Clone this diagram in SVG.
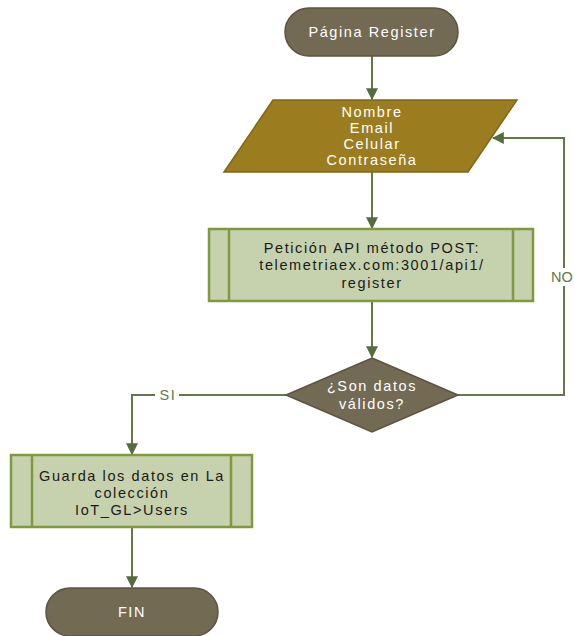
<svg xmlns="http://www.w3.org/2000/svg" width="574" height="636" viewBox="0 0 574 636">
  <style>
    .term { fill: #736a54; stroke: #5c5442; stroke-width: 1.5; }
    .io { fill: #9b7d1f; stroke: #7f6617; stroke-width: 1.5; }
    .proc { fill: #c6d1ad; stroke: #7f9a3e; stroke-width: 2.5; }
    .dec { fill: #736a54; stroke: #5c5442; stroke-width: 1.5; }
    .edge { fill: none; stroke: #627a48; stroke-width: 2; }
    .lt { font-family: "Liberation Sans", Arial, sans-serif; font-size: 14.5px; fill: #ffffff; text-anchor: middle; letter-spacing: 1.6px; }
    .dt { font-family: "Liberation Sans", Arial, sans-serif; font-size: 14.5px; fill: #1a1a1a; text-anchor: middle; letter-spacing: 1.6px; }
    .lbl { font-family: "Liberation Sans", Arial, sans-serif; font-size: 14.5px; fill: #627a48; text-anchor: middle; letter-spacing: 1.6px; }
  </style>
  <defs>
    <marker id="arrow" viewBox="0 0 10 10" refX="9" refY="5" markerWidth="6" markerHeight="6" markerUnits="strokeWidth" orient="auto">
      <path d="M0,0 L10,5 L0,10 z" fill="#566b3e"/>
    </marker>
  </defs>
  <rect width="574" height="636" fill="#ffffff"/>

  <g id="connectors">
    <path class="edge" d="M372,56 L372,99" marker-end="url(#arrow)"/>
    <path class="edge" d="M372,172 L372,228" marker-end="url(#arrow)"/>
    <path class="edge" d="M372,301 L372,357" marker-end="url(#arrow)"/>
    <path class="edge" d="M458,395 L564,395 L564,138 L493,138" marker-end="url(#arrow)"/>
    <path class="edge" d="M286,395 L132,395 L132,454" marker-end="url(#arrow)"/>
    <path class="edge" d="M132,527 L132,587" marker-end="url(#arrow)"/>
    <rect x="550" y="268" width="24" height="18" fill="#ffffff"/>
    <text class="lbl" x="562" y="282" style="letter-spacing:0.2px">NO</text>
    <rect x="155" y="387" width="24" height="16" fill="#ffffff"/>
    <text class="lbl" x="168" y="400">SI</text>
  </g>

  <g id="start">
    <rect class="term" x="285" y="8" width="173" height="48" rx="24" ry="24"/>
    <text class="lt" x="372" y="37">Página Register</text>
  </g>

  <g id="input">
    <polygon class="io" points="273,100 517,100 468,172 224,172"/>
    <text class="lt" x="372" y="117">Nombre</text>
    <text class="lt" x="372" y="133">Email</text>
    <text class="lt" x="372" y="149">Celular</text>
    <text class="lt" x="372" y="165">Contraseña</text>
  </g>

  <g id="request">
    <rect class="proc" x="209" y="229" width="324" height="72"/>
    <line class="proc" x1="229" y1="229" x2="229" y2="301"/>
    <line class="proc" x1="513" y1="229" x2="513" y2="301"/>
    <text class="dt" x="372" y="253">Petición API método POST:</text>
    <text class="dt" x="372" y="270">telemetriaex.com:3001/api1/</text>
    <text class="dt" x="372" y="288">register</text>
  </g>

  <g id="check">
    <polygon class="dec" points="372,358 458,395 372,432 286,395"/>
    <text class="lt" x="372" y="391">¿Son datos</text>
    <text class="lt" x="372" y="409">válidos?</text>
  </g>

  <g id="save">
    <rect class="proc" x="11" y="455" width="241" height="72"/>
    <line class="proc" x1="32" y1="455" x2="32" y2="527"/>
    <line class="proc" x1="231" y1="455" x2="231" y2="527"/>
    <text class="dt" x="132" y="481">Guarda los datos en La</text>
    <text class="dt" x="132" y="498">colección</text>
    <text class="dt" x="132" y="515">IoT_GL&gt;Users</text>
  </g>

  <g id="end">
    <rect class="term" x="46" y="588" width="172" height="48" rx="24" ry="24"/>
    <text class="lt" x="132" y="617">FIN</text>
  </g>
</svg>
